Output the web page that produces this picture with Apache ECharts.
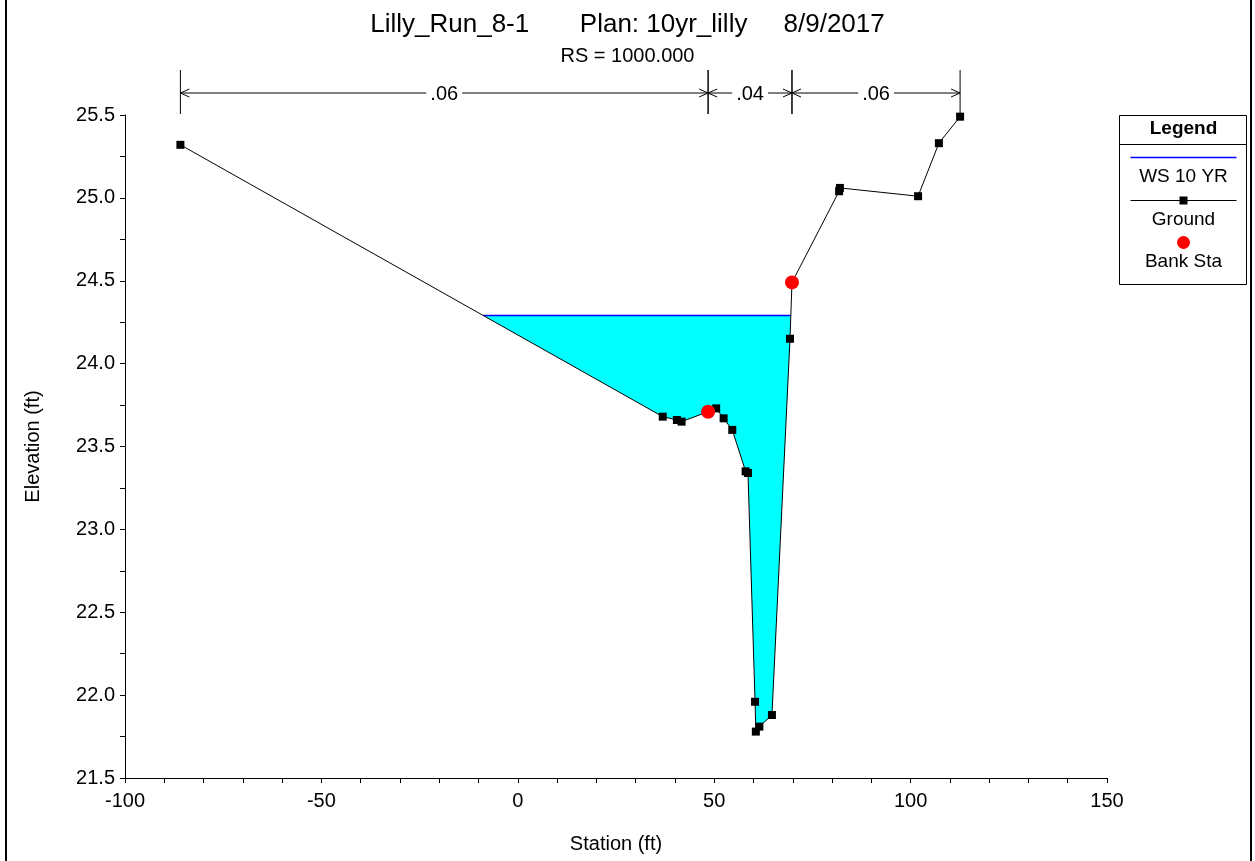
<!DOCTYPE html>
<html>
<head>
<meta charset="utf-8">
<title>Lilly_Run_8-1 RS 1000</title>
<script src="https://cdn.jsdelivr.net/npm/echarts@6.0.0/dist/echarts.min.js"></script>
<style>
  html, body { margin: 0; padding: 0; background: #fff; }
  #main { width: 1255px; height: 861px; }
</style>
</head>
<body>
<div id="main"></div>
<script>
// ground profile (station ft, elevation ft)
const groundSta = [-85.9, 36.9, 40.5, 41.7, 48.45, 50.5, 52.4, 54.6, 58.0, 58.6, 60.4, 60.6, 61.5, 64.7, 69.3, 69.8, 81.8, 82.0, 101.9, 107.2, 112.6];
const groundElev = [25.32, 23.68, 23.66, 23.65, 23.71, 23.73, 23.67, 23.60, 23.35, 23.34, 21.96, 21.78, 21.81, 21.88, 24.15, 24.49, 25.04, 25.06, 25.01, 25.33, 25.49];

// bank stations
const bankSta = [48.45, 69.8];
const bankElev = [23.71, 24.49];

// water surface 10 yr
const wsElev = 24.29;

// manning's n breaks
const mannSta = [-85.9, 48.45, 69.8, 112.6];
const mannN = [".06", ".04", ".06"];

const FONT = "'Liberation Sans', Arial, sans-serif";

const ground = groundSta.map((s, i) => [s, groundElev[i]]);
const banks = bankSta.map((s, i) => [s, bankElev[i]]);

// wetted polygon: ground below the water surface, closed along the WS line
function wetPolygon() {
  const pts = [];
  for (let i = 0; i < ground.length; i++) {
    const [x, y] = ground[i];
    if (y <= wsElev) pts.push([x, y]);
    if (i < ground.length - 1) {
      const [x2, y2] = ground[i + 1];
      if ((y - wsElev) * (y2 - wsElev) < 0) {
        const t = (wsElev - y) / (y2 - y);
        pts.push([x + t * (x2 - x), wsElev]);
      }
    }
  }
  return pts;
}
const wet = wetPolygon();
const wsLine = [[wet[0][0], wsElev], [wet[wet.length - 1][0], wsElev]];

const mannData = mannN.map((n, i) => [mannSta[i], mannSta[i + 1], n]);

var chartDom = document.getElementById("main");
var myChart = echarts.init(chartDom);
var option;

option = {
  backgroundColor: "#fff",
  animation: false,
  title: {
    text: "Lilly_Run_8-1       Plan: 10yr_lilly     8/9/2017",
    subtext: "RS = 1000.000",
    left: "center",
    top: 7,
    itemGap: 8,
    textStyle: { fontFamily: FONT, fontSize: 26, fontWeight: "normal", color: "#000" },
    subtextStyle: { fontFamily: FONT, fontSize: 20, color: "#000" },
  },
  grid: { left: 125, right: 148, top: 115, bottom: 83, outerBoundsMode: "none" },
  xAxis: {
    type: "value",
    min: -100,
    max: 150,
    interval: 50,
    name: "Station (ft)",
    nameLocation: "middle",
    nameGap: 56,
    nameTextStyle: { fontFamily: FONT, fontSize: 20, color: "#000" },
    axisLine: { onZero: false, lineStyle: { color: "#000", width: 1 } },
    axisTick: { length: 5, lineStyle: { color: "#000" } },
    minorTick: { show: true, splitNumber: 5, length: 5, lineStyle: { color: "#000" } },
    axisLabel: { fontFamily: FONT, fontSize: 20, color: "#000", margin: 13 },
    splitLine: { show: false },
  },
  yAxis: {
    type: "value",
    min: 21.5,
    max: 25.5,
    interval: 0.5,
    name: "Elevation (ft)",
    nameLocation: "middle",
    nameGap: 82,
    nameRotate: 90,
    nameTextStyle: { fontFamily: FONT, fontSize: 20, color: "#000" },
    axisLine: { show: true, onZero: false, lineStyle: { color: "#000", width: 1 } },
    axisTick: { show: true, length: 5, lineStyle: { color: "#000" } },
    minorTick: { show: true, splitNumber: 2, length: 5, lineStyle: { color: "#000" } },
    axisLabel: {
      fontFamily: FONT,
      fontSize: 20,
      color: "#000",
      margin: 10,
      formatter: (v) => v.toFixed(1),
    },
    splitLine: { show: false },
  },
  series: [
    {
      // water fill
      name: "wet",
      type: "custom",
      z: 1,
      silent: true,
      data: [0],
      renderItem: function (params, api) {
        return {
          type: "polygon",
          shape: { points: wet.map((p) => api.coord(p)) },
          style: { fill: "#00ffff", stroke: null },
        };
      },
    },
    {
      name: "WS 10 YR",
      type: "line",
      z: 3,
      data: wsLine,
      symbol: "none",
      lineStyle: { color: "#0000ff", width: 1.5 },
    },
    {
      name: "Ground",
      type: "line",
      z: 4,
      data: ground,
      symbol: "rect",
      symbolSize: 8,
      itemStyle: { color: "#000" },
      lineStyle: { color: "#000", width: 1 },
    },
    {
      name: "Bank Sta",
      type: "scatter",
      z: 5,
      data: banks,
      symbol: "circle",
      symbolSize: 14,
      itemStyle: { color: "#ff0000", opacity: 1 },
    },
    {
      // manning's n dimension lines above the plot
      name: "mann",
      type: "custom",
      z: 5,
      silent: true,
      clip: false,
      data: mannData,
      renderItem: function (params, api) {
        const top = api.coord([api.value(0), 25.5])[1];
        const x0 = api.coord([api.value(0), 25.5])[0];
        const x1 = api.coord([api.value(1), 25.5])[0];
        const y = top - 22;
        const st = { stroke: "#000", lineWidth: 1 };
        const ln = (a, b, c, d) => ({ type: "line", shape: { x1: a, y1: b, x2: c, y2: d }, style: st });
        return {
          type: "group",
          children: [
            ln(x0, top - 45, x0, top - 1),
            ln(x1, top - 45, x1, top - 1),
            ln(x0, y, x1, y),
            ln(x0, y, x0 + 9, y - 4),
            ln(x0, y, x0 + 9, y + 4),
            ln(x1, y, x1 - 9, y - 4),
            ln(x1, y, x1 - 9, y + 4),
            {
              type: "text",
              x: (x0 + x1) / 2,
              y: y + 1,
              style: {
                text: mannN[params.dataIndex],
                fontFamily: FONT,
                fontSize: 20,
                fill: "#000",
                align: "center",
                verticalAlign: "middle",
                backgroundColor: "#fff",
                padding: [0, 4],
              },
            },
          ],
        };
      },
    },
  ],
  graphic: [
    {
      // outer frame
      type: "rect",
      shape: { x: 6, y: -10, width: 1245, height: 890 },
      style: { fill: null, stroke: "#000", lineWidth: 2 },
      silent: true,
    },
    {
      type: "group",
      left: 1117,
      top: 115,
      children: [
        { type: "rect", shape: { x: 0, y: 0, width: 127, height: 169 }, style: { fill: "#fff", stroke: "#000", lineWidth: 1 } },
        { type: "line", shape: { x1: 0, y1: 29, x2: 127, y2: 29 }, style: { stroke: "#000", lineWidth: 1 } },
        { type: "text", x: 64, y: 13, style: { text: "Legend", fontFamily: FONT, fontSize: 19, fontWeight: "bold", fill: "#000", align: "center", verticalAlign: "middle" } },
        { type: "line", shape: { x1: 11, y1: 42, x2: 117, y2: 42 }, style: { stroke: "#0000ff", lineWidth: 1.5 } },
        { type: "text", x: 64, y: 61, style: { text: "WS 10 YR", fontFamily: FONT, fontSize: 19, fill: "#000", align: "center", verticalAlign: "middle" } },
        { type: "line", shape: { x1: 11, y1: 85, x2: 117, y2: 85 }, style: { stroke: "#000", lineWidth: 1 } },
        { type: "rect", shape: { x: 60, y: 81, width: 8, height: 8 }, style: { fill: "#000" } },
        { type: "text", x: 64, y: 104, style: { text: "Ground", fontFamily: FONT, fontSize: 19, fill: "#000", align: "center", verticalAlign: "middle" } },
        { type: "circle", shape: { cx: 64, cy: 127, r: 6.5 }, style: { fill: "#ff0000" } },
        { type: "text", x: 64, y: 146, style: { text: "Bank Sta", fontFamily: FONT, fontSize: 19, fill: "#000", align: "center", verticalAlign: "middle" } },
      ],
    },
  ],
};

option && myChart.setOption(option);
</script>
</body>
</html>
